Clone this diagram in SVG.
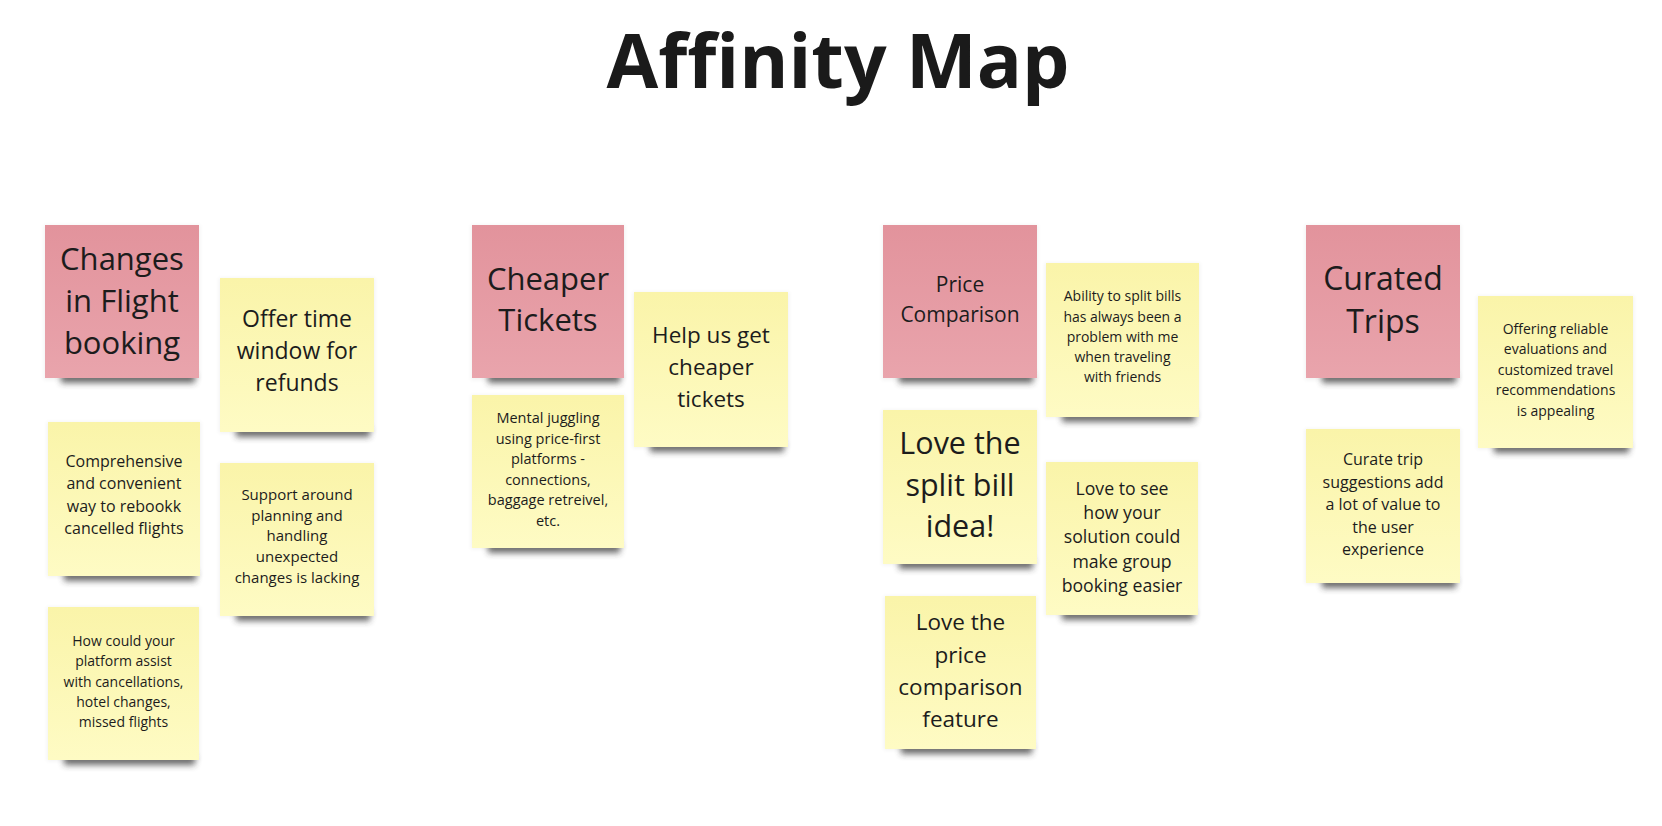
<svg xmlns="http://www.w3.org/2000/svg" width="1662" height="826" viewBox="0 0 1662 826">
<defs>
<linearGradient id="gPink" x1="0" y1="0" x2="0" y2="1">
<stop offset="0" stop-color="#E2939C"/>
<stop offset="1" stop-color="#E9A4AC"/>
</linearGradient>
<linearGradient id="gYel" x1="0" y1="0" x2="0" y2="1">
<stop offset="0" stop-color="#FAF4A9"/>
<stop offset="1" stop-color="#FEFBC4"/>
</linearGradient>
<filter id="blur" x="-20%" y="-100%" width="140%" height="300%">
<feGaussianBlur stdDeviation="3"/>
</filter>
<filter id="soft" x="-10%" y="-10%" width="120%" height="120%">
<feGaussianBlur stdDeviation="2"/>
</filter>
</defs>
<style>
.pink{fill:url(#gPink)}
.yel{fill:url(#gYel)}
.sh{fill:#2e2e2e;opacity:0.7;filter:url(#blur)}
.halo{fill:#000;opacity:0.05;filter:url(#soft)}
text{font-family:"Open Sans","Noto Sans","DejaVu Sans",sans-serif;fill:#1c1c1c;text-anchor:middle}
.title{font-weight:700;font-size:75px;fill:#1a1a1a}
</style>
<rect width="1662" height="826" fill="#ffffff"/>
<text class="title" x="838" y="88">Affinity Map</text>

<g id="connectors"></g>

<g id="n-changes">
<rect class="halo" x="44" y="225" width="156" height="155"/>
<rect class="sh" x="61" y="373" width="134" height="10"/>
<rect class="pink" x="45" y="225" width="154" height="153"/>
<text font-size="31"><tspan x="122" y="270">Changes</tspan><tspan x="122" y="312">in Flight</tspan><tspan x="122" y="354">booking</tspan></text>
</g>

<g id="n-offer">
<rect class="halo" x="219" y="278" width="156" height="155"/>
<rect class="sh" x="236" y="427" width="134" height="10"/>
<rect class="yel" x="220" y="278" width="154" height="154"/>
<text font-size="23"><tspan x="297" y="327">Offer time</tspan><tspan x="297" y="359">window for</tspan><tspan x="297" y="391">refunds</tspan></text>
</g>

<g id="n-comprehensive">
<rect class="halo" x="47" y="422" width="154" height="155"/>
<rect class="sh" x="64" y="571" width="132" height="10"/>
<rect class="yel" x="48" y="422" width="152" height="154"/>
<text font-size="16"><tspan x="124" y="467">Comprehensive</tspan><tspan x="124" y="489">and convenient</tspan><tspan x="124" y="512">way to rebookk</tspan><tspan x="124" y="534">cancelled flights</tspan></text>
</g>

<g id="n-support">
<rect class="halo" x="219" y="463" width="156" height="154"/>
<rect class="sh" x="236" y="611" width="134" height="10"/>
<rect class="yel" x="220" y="463" width="154" height="153"/>
<text font-size="15"><tspan x="297" y="500">Support around</tspan><tspan x="297" y="521">planning and</tspan><tspan x="297" y="541">handling</tspan><tspan x="297" y="562">unexpected</tspan><tspan x="297" y="583">changes is lacking</tspan></text>
</g>

<g id="n-howcould">
<rect class="halo" x="47" y="607" width="153" height="154"/>
<rect class="sh" x="64" y="755" width="131" height="10"/>
<rect class="yel" x="48" y="607" width="151" height="153"/>
<text font-size="14"><tspan x="123.5" y="646">How could your</tspan><tspan x="123.5" y="666">platform assist</tspan><tspan x="123.5" y="687">with cancellations,</tspan><tspan x="123.5" y="707">hotel changes,</tspan><tspan x="123.5" y="727">missed flights</tspan></text>
</g>

<g id="n-cheaper">
<rect class="halo" x="471" y="225" width="154" height="155"/>
<rect class="sh" x="488" y="373" width="132" height="10"/>
<rect class="pink" x="472" y="225" width="152" height="153"/>
<text font-size="31"><tspan x="548" y="290">Cheaper</tspan><tspan x="548" y="331">Tickets</tspan></text>
</g>

<g id="n-mental">
<rect class="halo" x="471" y="395" width="154" height="154"/>
<rect class="sh" x="488" y="543" width="132" height="10"/>
<rect class="yel" x="472" y="395" width="152" height="153"/>
<text font-size="14.5"><tspan x="548" y="423">Mental juggling</tspan><tspan x="548" y="443.5">using price-first</tspan><tspan x="548" y="464">platforms -</tspan><tspan x="548" y="484.5">connections,</tspan><tspan x="548" y="505">baggage retreivel,</tspan><tspan x="548" y="525.5">etc.</tspan></text>
</g>

<g id="n-helpus">
<rect class="halo" x="633" y="292" width="156" height="156"/>
<rect class="sh" x="650" y="442" width="134" height="10"/>
<rect class="yel" x="634" y="292" width="154" height="155"/>
<text font-size="22.5"><tspan x="711" y="343">Help us get</tspan><tspan x="711" y="375">cheaper</tspan><tspan x="711" y="407">tickets</tspan></text>
</g>

<g id="n-price">
<rect class="halo" x="882" y="225" width="156" height="155"/>
<rect class="sh" x="899" y="373" width="134" height="10"/>
<rect class="pink" x="883" y="225" width="154" height="153"/>
<text font-size="21"><tspan x="960" y="292">Price</tspan><tspan x="960" y="322">Comparison</tspan></text>
</g>

<g id="n-ability">
<rect class="halo" x="1045" y="263" width="155" height="155"/>
<rect class="sh" x="1062" y="412" width="133" height="10"/>
<rect class="yel" x="1046" y="263" width="153" height="154"/>
<text font-size="14"><tspan x="1122.5" y="301">Ability to split bills</tspan><tspan x="1122.5" y="322">has always been a</tspan><tspan x="1122.5" y="342">problem with me</tspan><tspan x="1122.5" y="362">when traveling</tspan><tspan x="1122.5" y="382">with friends</tspan></text>
</g>

<g id="n-splitbill">
<rect class="halo" x="882" y="410" width="156" height="155"/>
<rect class="sh" x="899" y="559" width="134" height="10"/>
<rect class="yel" x="883" y="410" width="154" height="154"/>
<text font-size="30.5"><tspan x="960" y="454">Love the</tspan><tspan x="960" y="496">split bill</tspan><tspan x="960" y="537">idea!</tspan></text>
</g>

<g id="n-group">
<rect class="halo" x="1045" y="462" width="154" height="154"/>
<rect class="sh" x="1062" y="610" width="132" height="10"/>
<rect class="yel" x="1046" y="462" width="152" height="153"/>
<text font-size="17.7"><tspan x="1122" y="495">Love to see</tspan><tspan x="1122" y="519">how your</tspan><tspan x="1122" y="543">solution could</tspan><tspan x="1122" y="568">make group</tspan><tspan x="1122" y="592">booking easier</tspan></text>
</g>

<g id="n-pricefeature">
<rect class="halo" x="884" y="596" width="153" height="154"/>
<rect class="sh" x="901" y="744" width="131" height="10"/>
<rect class="yel" x="885" y="596" width="151" height="153"/>
<text font-size="22.5"><tspan x="960.5" y="630">Love the</tspan><tspan x="960.5" y="663">price</tspan><tspan x="960.5" y="695">comparison</tspan><tspan x="960.5" y="727">feature</tspan></text>
</g>

<g id="n-curated">
<rect class="halo" x="1305" y="225" width="156" height="155"/>
<rect class="sh" x="1322" y="373" width="134" height="10"/>
<rect class="pink" x="1306" y="225" width="154" height="153"/>
<text font-size="32"><tspan x="1383" y="290">Curated</tspan><tspan x="1383" y="333">Trips</tspan></text>
</g>

<g id="n-offering">
<rect class="halo" x="1477" y="296" width="157" height="153"/>
<rect class="sh" x="1494" y="443" width="135" height="10"/>
<rect class="yel" x="1478" y="296" width="155" height="152"/>
<text font-size="14"><tspan x="1555.5" y="334">Offering reliable</tspan><tspan x="1555.5" y="354">evaluations and</tspan><tspan x="1555.5" y="375">customized travel</tspan><tspan x="1555.5" y="395">recommendations</tspan><tspan x="1555.5" y="416">is appealing</tspan></text>
</g>

<g id="n-curate">
<rect class="halo" x="1305" y="429" width="156" height="155"/>
<rect class="sh" x="1322" y="578" width="134" height="10"/>
<rect class="yel" x="1306" y="429" width="154" height="154"/>
<text font-size="16"><tspan x="1383" y="465">Curate trip</tspan><tspan x="1383" y="487.5">suggestions add</tspan><tspan x="1383" y="510">a lot of value to</tspan><tspan x="1383" y="532.5">the user</tspan><tspan x="1383" y="555">experience</tspan></text>
</g>
</svg>
